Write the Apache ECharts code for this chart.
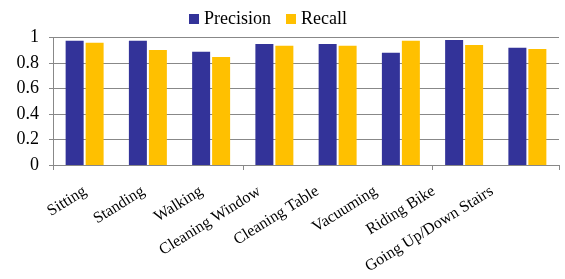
<!DOCTYPE html>
<html>
<head>
<meta charset="utf-8">
<script src="https://cdn.jsdelivr.net/npm/echarts@6/dist/echarts.min.js"></script>
<style>
  html, body { margin: 0; padding: 0; background: #fff; }
  #chart { width: 565px; height: 279px; }
</style>
</head>
<body>
<div id="chart"></div>
<script>
var categories = ["Sitting", "Standing", "Walking", "Cleaning Window", "Cleaning Table", "Vacuuming", "Riding Bike", "Going Up/Down Stairs"];
var precision = [0.975, 0.975, 0.888, 0.95, 0.95, 0.88, 0.98, 0.92];
var recall = [0.958, 0.902, 0.848, 0.935, 0.935, 0.975, 0.942, 0.91];
var yTicks = [0, 0.2, 0.4, 0.6, 0.8, 1];

var font = "Liberation Serif";
var gray = "#888888";

var myChart = echarts.init(document.getElementById("chart"));
// second grid only carries the slanted labels (Excel packs them a bit tighter)
myChart.setOption({
    animation: false,
    legend: {
        top: 5,
        left: 184,
        itemWidth: 10,
        itemHeight: 10,
        itemGap: 15,
        icon: "rect",
        textStyle: { fontFamily: font, fontSize: 18, color: "#000" },
        data: ["Precision", "Recall"]
    },
    grid: [
        { left: 53, right: 6, top: 37.5, bottom: 114, containLabel: false },
        { left: 56, right: 44, top: 37.5, bottom: 114, containLabel: false }
    ],
    xAxis: [{
        type: "category",
        data: categories,
        axisLine: { lineStyle: { color: gray } },
        axisTick: { show: true, length: 5, lineStyle: { color: gray } },
        axisLabel: { show: false }
    }, {
        type: "category",
        gridIndex: 1,
        data: categories,
        axisLine: { show: false },
        axisTick: { show: false },
        axisLabel: { rotate: 32, margin: 25, interval: 0, fontFamily: font, fontSize: 16, color: "#000" }
    }],
    yAxis: [{
        type: "value",
        min: yTicks[0],
        max: yTicks[yTicks.length - 1],
        interval: 0.2,
        axisLine: { show: true, lineStyle: { color: gray } },
        axisTick: { show: true, length: 4, lineStyle: { color: gray } },
        splitLine: { lineStyle: { color: gray } },
        axisLabel: { margin: 14, fontFamily: font, fontSize: 18, color: "#000" }
    }, {
        type: "value",
        gridIndex: 1,
        show: false
    }],
    series: [{
        name: "Precision",
        type: "bar",
        data: precision,
        barWidth: 18,
        barGap: "11%",
        itemStyle: { color: "#333399" }
    }, {
        name: "Recall",
        type: "bar",
        data: recall,
        barWidth: 18,
        itemStyle: { color: "#FFC000" }
    }]
});
</script>
</body>
</html>
